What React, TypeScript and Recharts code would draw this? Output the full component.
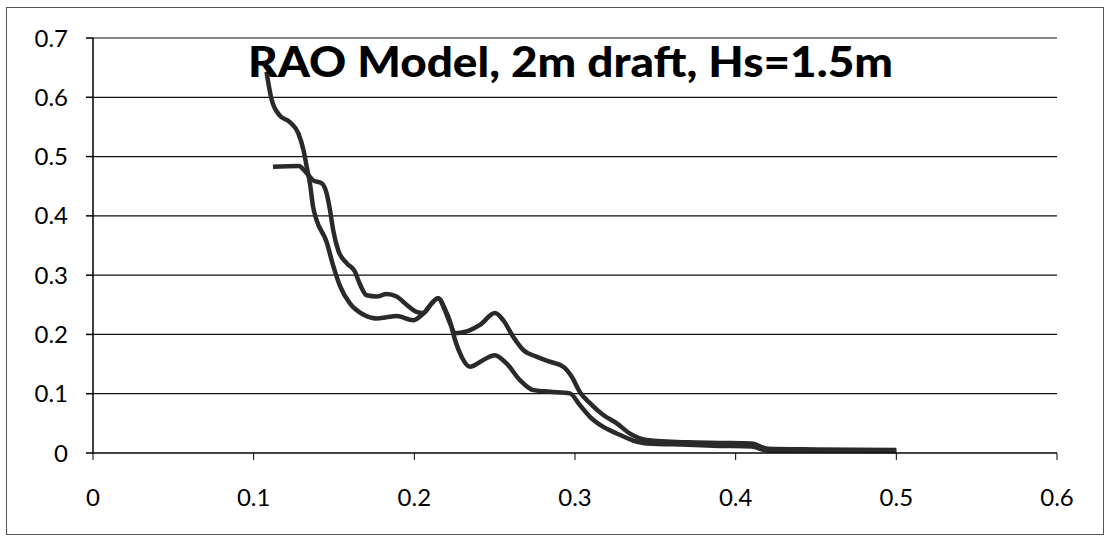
import { LineChart, Line, XAxis, YAxis, CartesianGrid } from "recharts";

const X_TICKS = [0, 0.1, 0.2, 0.3, 0.4, 0.5, 0.6];
const Y_TICKS = [0, 0.1, 0.2, 0.3, 0.4, 0.5, 0.6, 0.7];

// series that starts high at ~0.65
const seriesA = [
  { x: 0.108, y: 0.643 }, { x: 0.111, y: 0.598 }, { x: 0.116, y: 0.57 },
  { x: 0.1226, y: 0.558 }, { x: 0.1278, y: 0.539 }, { x: 0.131, y: 0.511 },
  { x: 0.133, y: 0.483 }, { x: 0.135, y: 0.455 }, { x: 0.137, y: 0.415 },
  { x: 0.139, y: 0.394 }, { x: 0.1454, y: 0.356 }, { x: 0.1495, y: 0.316 },
  { x: 0.1537, y: 0.282 }, { x: 0.16, y: 0.252 }, { x: 0.168, y: 0.234 },
  { x: 0.1765, y: 0.227 }, { x: 0.1827, y: 0.229 }, { x: 0.1889, y: 0.231 },
  { x: 0.1993, y: 0.224 }, { x: 0.2055, y: 0.235 }, { x: 0.2149, y: 0.261 },
  { x: 0.219, y: 0.243 }, { x: 0.2222, y: 0.222 }, { x: 0.2253, y: 0.191 },
  { x: 0.2294, y: 0.1625 }, { x: 0.2346, y: 0.1455 }, { x: 0.243, y: 0.157 },
  { x: 0.25, y: 0.165 }, { x: 0.2574, y: 0.151 }, { x: 0.2657, y: 0.123 },
  { x: 0.274, y: 0.106 }, { x: 0.2844, y: 0.1034 }, { x: 0.2968, y: 0.1006 },
  { x: 0.303, y: 0.081 }, { x: 0.3093, y: 0.061 }, { x: 0.3176, y: 0.044 },
  { x: 0.326, y: 0.033 }, { x: 0.3362, y: 0.021 }, { x: 0.345, y: 0.016 },
  { x: 0.37, y: 0.014 }, { x: 0.39, y: 0.012 }, { x: 0.41, y: 0.011 },
  { x: 0.42, y: 0.004 }, { x: 0.45, y: 0.004 }, { x: 0.5, y: 0.003 },
];

// series with the flat start at ~0.48
const seriesB = [
  { x: 0.112, y: 0.483 }, { x: 0.128, y: 0.484 }, { x: 0.133, y: 0.472 },
  { x: 0.137, y: 0.46 }, { x: 0.1423, y: 0.455 }, { x: 0.1454, y: 0.438 },
  { x: 0.1475, y: 0.41 }, { x: 0.1495, y: 0.376 }, { x: 0.1526, y: 0.342 },
  { x: 0.158, y: 0.32 }, { x: 0.163, y: 0.306 }, { x: 0.1661, y: 0.285 },
  { x: 0.1703, y: 0.266 }, { x: 0.1765, y: 0.264 }, { x: 0.1827, y: 0.268 },
  { x: 0.1889, y: 0.264 }, { x: 0.1952, y: 0.25 }, { x: 0.2014, y: 0.238 },
  { x: 0.2055, y: 0.236 }, { x: 0.2107, y: 0.252 }, { x: 0.2149, y: 0.261 },
  { x: 0.219, y: 0.241 }, { x: 0.2222, y: 0.219 }, { x: 0.2253, y: 0.202 },
  { x: 0.2325, y: 0.205 }, { x: 0.2408, y: 0.216 }, { x: 0.2502, y: 0.236 },
  { x: 0.2553, y: 0.224 }, { x: 0.2615, y: 0.196 }, { x: 0.2677, y: 0.174 },
  { x: 0.276, y: 0.1625 }, { x: 0.2844, y: 0.154 }, { x: 0.2927, y: 0.1455 },
  { x: 0.2979, y: 0.129 }, { x: 0.303, y: 0.103 }, { x: 0.3093, y: 0.084 },
  { x: 0.3176, y: 0.064 }, { x: 0.326, y: 0.05 }, { x: 0.334, y: 0.033 },
  { x: 0.3446, y: 0.022 }, { x: 0.37, y: 0.018 }, { x: 0.39, y: 0.017 },
  { x: 0.41, y: 0.016 }, { x: 0.42, y: 0.007 }, { x: 0.45, y: 0.006 },
  { x: 0.5, y: 0.005 },
];

const TITLE = "RAO Model, 2m draft, Hs=1.5m";

const tickStyle = { fontFamily: "Lato", fontSize: 24, fill: "#000" };

export default function App() {
  return (
    <div style={{ position: "absolute", left: 0, top: 0, width: 1106, height: 542, background: "#fff" }}>
      <div
        style={{
          position: "absolute",
          left: 6,
          top: 7,
          width: 1096,
          height: 526,
          border: "1.5px solid #555",
        }}
      />
      <div style={{ position: "absolute", left: 0, top: 0 }}>
        <LineChart width={1106} height={542} margin={{ top: 38, right: 49, bottom: 29, left: 0 }}>
          <CartesianGrid vertical={false} stroke="#111" strokeWidth={1.2} />
          <XAxis
            type="number"
            dataKey="x"
            domain={[0, 0.6]}
            ticks={X_TICKS}
            height={60}
            stroke="#000"
            tickSize={7}
            tickMargin={29}
            tick={tickStyle}
            allowDuplicatedCategory={false}
          />
          <YAxis
            type="number"
            dataKey="y"
            domain={[0, 0.7]}
            ticks={Y_TICKS}
            width={93}
            stroke="#000"
            strokeWidth={1.5}
            tickSize={7}
            tickMargin={18}
            tick={tickStyle}
          />
          <Line
            data={seriesA}
            dataKey="y"
            type="monotone"
            stroke="#2a2a2a"
            strokeWidth={4.5}
            dot={false}
            isAnimationActive={false}
          />
          <Line
            data={seriesB}
            dataKey="y"
            type="monotone"
            stroke="#2a2a2a"
            strokeWidth={4.5}
            dot={false}
            isAnimationActive={false}
          />
        </LineChart>
      </div>
      <svg width={1106} height={542} style={{ position: "absolute", left: 0, top: 0, pointerEvents: "none" }}>
        <text
          x={248}
          y={77}
          textLength={645}
          lengthAdjust="spacingAndGlyphs"
          style={{ fontFamily: "Lato", fontWeight: 900, fontSize: 42, fill: "#000" }}
        >
          {TITLE}
        </text>
      </svg>
    </div>
  );
}
